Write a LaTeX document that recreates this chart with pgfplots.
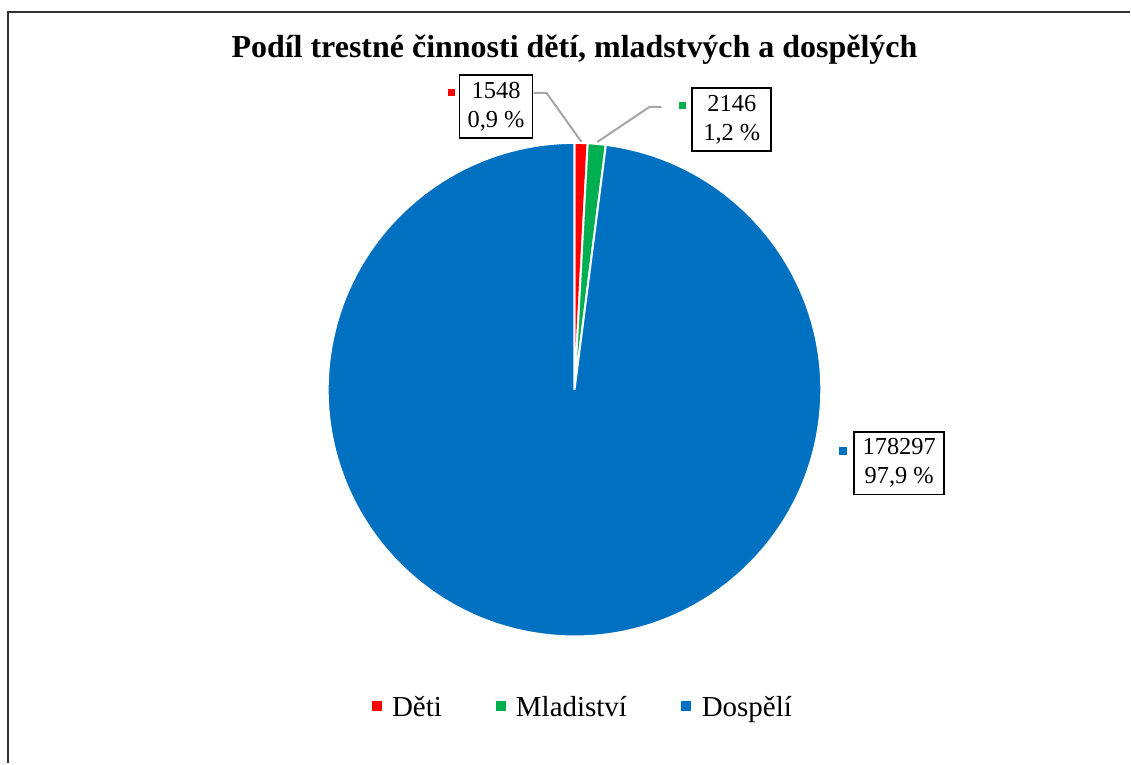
\documentclass[border=0pt]{standalone}
\usepackage{pgfplots}
\pgfplotsset{compat=1.18}
\usepackage{pgfplotstable}
\usepackage{fontspec}
\setmainfont{Liberation Serif}

\definecolor{deti}{HTML}{FF0000}
\definecolor{mlad}{HTML}{00B050}
\definecolor{dosp}{HTML}{0070C0}
\definecolor{vodic}{HTML}{A6A6A6}

% počty trestných činů podle skupin
\pgfplotstableread{
skupina hodnota
Deti 1548
Mladistvi 2146
Dospeli 178297
}\podil

\begin{document}
\begin{tikzpicture}
\pgfplotstablegetelem{0}{hodnota}\of\podil \let\vA\pgfplotsretval
\pgfplotstablegetelem{1}{hodnota}\of\podil \let\vB\pgfplotsretval
\pgfplotstablegetelem{2}{hodnota}\of\podil \let\vC\pgfplotsretval
\edef\aA{\fpeval{90-360*\vA/(\vA+\vB+\vC)}}
\edef\aB{\fpeval{\aA-360*\vB/(\vA+\vB+\vC)}}
\def\R{123.5pt}
\begin{axis}[
    width=565.5pt, height=382pt, scale only axis,
    xmin=0, xmax=1131, ymin=0, ymax=764, y dir=reverse,
    axis lines=none, clip=false,
]
\path (axis cs:0,0) rectangle (axis cs:1131,764);
% rámeček
\draw[line width=1pt, black!80] (axis cs:8,764) -- (axis cs:8,12) -- (axis cs:1131,12);

% nadpis
\node[font=\fontsize{16}{19}\selectfont\bfseries] at (axis cs:575,50)
    {Podíl trestné činnosti dětí, mladstvých a dospělých};

% výseče
\filldraw[fill=deti, draw=white, line width=1pt] (axis cs:575,390) -- ++(90:\R)
    arc[start angle=90, end angle=\aA, radius=\R] -- cycle;
\filldraw[fill=mlad, draw=white, line width=1pt] (axis cs:575,390) -- ++(\aA:\R)
    arc[start angle=\aA, end angle=\aB, radius=\R] -- cycle;
\filldraw[fill=dosp, draw=white, line width=1pt] (axis cs:575,390) -- ++(\aB:\R)
    arc[start angle=\aB, end angle=-270, radius=\R] -- cycle;

% vodicí čáry
\draw[vodic, line width=1pt] (axis cs:534,93) -- (axis cs:547,93) -- (axis cs:582,142);
\draw[vodic, line width=1pt] (axis cs:662,107) -- (axis cs:650,107) -- (axis cs:598,142);

% popisky dat
\tikzset{popisek/.style={draw=black, line width=0.9pt, align=center, inner sep=1pt,
    minimum height=31.5pt, font=\fontsize{12.2}{14.5}\selectfont}}
\node[popisek, minimum width=36.5pt] at (axis cs:496.5,106.5) {1548\\0,9 \%};
\node[popisek, minimum width=39.5pt] at (axis cs:732.5,119.5) {2146\\1,2 \%};
\node[popisek, minimum width=45pt] at (axis cs:900,463.5) {178297\\97,9 \%};
\fill[deti] (axis cs:448,89) rectangle (axis cs:455,96);
\fill[mlad] (axis cs:680,102) rectangle (axis cs:687,109);
\fill[dosp] (axis cs:840,447) rectangle (axis cs:848,455);

% legenda
\tikzset{leg/.style={anchor=base west, inner sep=0pt, font=\fontsize{14.5}{17}\selectfont}}
\fill[deti] (axis cs:372,702) rectangle (axis cs:382,712);
\node[leg] at (axis cs:392,717) {Děti};
\fill[mlad] (axis cs:496,702) rectangle (axis cs:506,712);
\node[leg] at (axis cs:516,717) {Mladiství};
\fill[dosp] (axis cs:682,702) rectangle (axis cs:692,712);
\node[leg] at (axis cs:702,717) {Dospělí};
\end{axis}
\end{tikzpicture}
\end{document}
